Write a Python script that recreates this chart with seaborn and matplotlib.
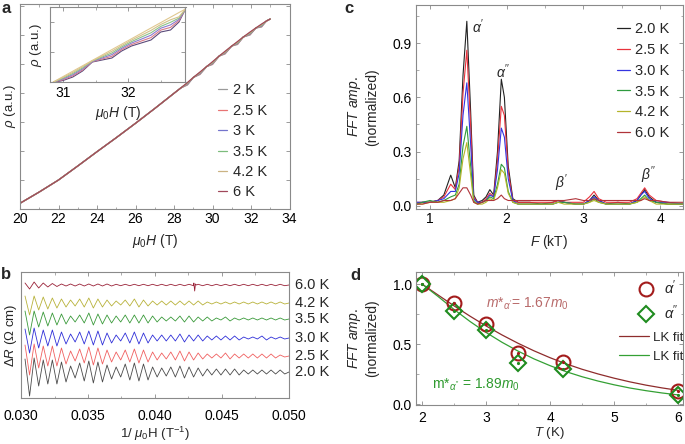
import numpy as np
import pandas as pd
import matplotlib
matplotlib.use("Agg")
import matplotlib.pyplot as plt
import seaborn as sns
from matplotlib.ticker import MultipleLocator, NullFormatter, FormatStrFormatter
from matplotlib.lines import Line2D

# ---------------- data: panel a ----------------
A_LABELS = ["2 K", "2.5 K", "3 K", "3.5 K", "4.2 K", "6 K"]
A_COLORS = ["#9a9a9a", "#e87474", "#7474cc", "#7cbc7c", "#cbb383", "#a0485a"]
A_H = [20, 21, 22, 23, 24, 25, 26, 27, 28, 28.35, 28.7, 29.0, 29.35, 29.7, 30.0,
       30.35, 30.65, 31.0, 31.3, 31.6, 31.95, 32.25, 32.55, 32.8, 33.0]
A_RHO_2 = [5.7, 17, 29, 43, 57.3, 71.3, 85.7, 100.5, 115.7, 121, 124.0, 131.5, 134.5, 142.5, 144.5,
           153, 155.0, 163, 164.5, 172, 174.0, 181, 182.0, 188, 190]
A_RHO_25 = [5.7, 17, 29, 43, 57.3, 71.3, 85.7, 100.5, 115.7, 121, 124.5, 131.5, 135.0, 142.5, 145.0,
            153, 155.5, 163, 165.0, 172, 174.5, 181, 182.5, 188, 190]
A_RHO_3 = [5.7, 17, 29, 43, 57.3, 71.3, 85.7, 100.5, 115.7, 121, 125.0, 131.5, 135.5, 142.5, 145.5,
           153, 156.0, 163, 165.5, 172, 175.0, 181, 183.0, 188, 190]
A_RHO_35 = [5.7, 17, 29, 43, 57.3, 71.3, 85.7, 100.5, 115.7, 121, 125.5, 131.5, 136.0, 142.5, 146.0,
            153, 156.5, 163, 166.0, 172, 175.5, 181, 183.5, 188, 190]
A_RHO_42 = [5.7, 17, 29, 43, 57.3, 71.3, 85.7, 100.5, 115.7, 121, 126.0, 131.5, 136.5, 142.5, 146.6,
            153, 157.0, 163, 166.8, 172, 176.3, 181, 184.3, 188, 190]
A_RHO_6 = [5.7, 17, 29, 43, 57.3, 71.3, 85.7, 100.5, 115.7, 121, 126.5, 131.5, 137.0, 142.5, 147.3,
           153, 157.7, 163, 167.5, 172, 177.0, 181, 185.0, 188, 190]

# inset
I_H = [30.85, 31.0, 31.15, 31.3, 31.45, 31.6, 31.75, 31.9, 32.05, 32.2, 32.35, 32.5, 32.65, 32.78, 32.88]
I_RHO_2 = [-0.5, 1.5, 5.0, 11.0, 20.0, 22.0, 24.0, 31.0, 36.0, 39.0, 42.0, 50.0, 52.0, 60.0, 73.0]
I_RHO_25 = [-0.4, 2.3, 6.2, 12.0, 20.3, 23.0, 25.7, 32.4, 37.4, 40.9, 44.4, 51.9, 54.6, 61.3, 73.0]
I_RHO_3 = [-0.3, 3.1, 7.3, 13.1, 20.6, 24.0, 27.4, 33.7, 38.9, 42.8, 46.8, 53.8, 57.1, 62.6, 73.0]
I_RHO_35 = [-0.2, 3.8, 8.5, 14.1, 21.0, 25.0, 29.0, 35.1, 40.3, 44.8, 49.2, 55.6, 59.7, 63.9, 73.0]
I_RHO_42 = [-0.1, 4.6, 9.6, 15.2, 21.3, 26.0, 30.7, 36.4, 41.8, 46.7, 51.6, 57.5, 62.2, 65.2, 73.0]
I_RHO_6 = [0.0, 5.4, 10.8, 16.2, 21.6, 27.0, 32.4, 37.8, 43.2, 48.6, 54.0, 59.4, 64.8, 69.5, 73.0]

# ---------------- data: panel b ----------------
B_LABELS = ["2.0 K", "2.5 K", "3.0 K", "3.5 K", "4.2 K", "6.0 K"]
B_COLORS = ["#4a4a4a", "#f06060", "#2f2fd8", "#3a9a3a", "#b8b23a", "#9a2238"]
B_BASE = [26, 42, 60, 79, 95, 113]
B_FIRST_DIP = [24, 19, 15, 16, 12, 4]
B_AMP_20 = [13, 14, 12, 12, 10, 6, 9, 11, 10, 7, 5, 8, 9, 8, 5, 4, 5, 6, 5, 4, 3, 3, 3, 3, 2, 2, 2, 2, 2]
B_AMP_25 = [11, 12, 10, 10, 8, 5, 7, 9, 8, 6, 4, 6, 7, 6, 4, 3, 4, 5, 4, 3, 2, 2, 3, 2, 2, 2, 2, 2, 1]
B_AMP_30 = [9, 10, 8, 8, 6, 4, 6, 7, 7, 5, 3, 5, 6, 5, 3, 3, 3, 4, 3, 3, 2, 2, 2, 2, 1, 1, 2, 1, 1]
B_AMP_35 = [8, 8, 7, 6, 5, 3, 4, 6, 5, 4, 3, 4, 4, 4, 3, 2, 2, 3, 3, 2, 2, 1, 2, 1, 1, 1, 1, 1, 1]
B_AMP_42 = [7, 7, 6, 5, 4, 3, 4, 5, 4, 3, 2, 3, 4, 3, 2, 2, 2, 2, 2, 2, 1, 1, 1, 1, 1, 1, 1, 1, 1]
B_AMP_60 = [2, 3, 2, 1.5, 1, 1, 1, 1, 1, 1, 0.7, 0.7, 0.7, 0.7, 0.7, 0.7, 0.7, 0.7, 0.7, 0.7,
            0.7, 0.7, 0.7, 0.7, 0.7, 0.7, 0.7, 0.7, 0.7]
B_X_START = 0.0303
B_PERIOD = 0.00068
B_GLITCH_X = [0.04290, 0.04296, 0.04302, 0.04310]
B_GLITCH_DY = [2, -6, 1, 0]

# ---------------- data: panel c ----------------
C_LABELS = ["2.0 K", "2.5 K", "3.0 K", "3.5 K", "4.2 K", "6.0 K"]
C_COLORS = ["#222222", "#e8323c", "#3434e0", "#2e9a3e", "#b4b42a", "#b0343a"]
C_F = [0.82, 0.9, 1.0, 1.1, 1.18, 1.27, 1.33, 1.38, 1.43, 1.48, 1.53, 1.57, 1.62, 1.68, 1.73,
       1.78, 1.83, 1.88, 1.93, 1.97, 2.02, 2.08, 2.15, 2.3, 2.45, 2.6, 2.67, 2.75, 2.9, 3.0,
       3.08, 3.14, 3.2, 3.3, 3.45, 3.6, 3.7, 3.75, 3.8, 3.86, 3.95, 4.1, 4.3]
C_20 = [0.01, 0.02, 0.02, 0.03, 0.06, 0.17, 0.10, 0.25, 0.72, 1.02, 0.52, 0.06, 0.02, 0.03, 0.05,
        0.09, 0.06, 0.30, 0.70, 0.60, 0.22, 0.04, 0.02, 0.02, 0.01, 0.02, 0.03, 0.02, 0.01, 0.01,
        0.03, 0.06, 0.03, 0.01, 0.02, 0.01, 0.03, 0.06, 0.09, 0.05, 0.02, 0.01, 0.01]
C_25 = [0.02, 0.02, 0.02, 0.03, 0.05, 0.12, 0.09, 0.22, 0.62, 0.86, 0.44, 0.05, 0.02, 0.02, 0.04,
        0.07, 0.05, 0.25, 0.55, 0.50, 0.19, 0.03, 0.02, 0.02, 0.02, 0.02, 0.03, 0.02, 0.02, 0.02,
        0.05, 0.08, 0.04, 0.02, 0.02, 0.02, 0.04, 0.07, 0.10, 0.06, 0.03, 0.02, 0.01]
C_30 = [0.02, 0.02, 0.02, 0.03, 0.04, 0.08, 0.08, 0.18, 0.50, 0.68, 0.34, 0.04, 0.02, 0.02, 0.03,
        0.06, 0.05, 0.20, 0.43, 0.38, 0.15, 0.03, 0.01, 0.01, 0.01, 0.01, 0.02, 0.02, 0.01, 0.01,
        0.03, 0.05, 0.03, 0.01, 0.01, 0.01, 0.03, 0.06, 0.08, 0.04, 0.02, 0.02, 0.01]
C_35 = [0.01, 0.02, 0.03, 0.02, 0.03, 0.05, 0.06, 0.12, 0.33, 0.44, 0.22, 0.03, 0.01, 0.02, 0.03,
        0.05, 0.04, 0.12, 0.23, 0.21, 0.08, 0.02, 0.01, 0.01, 0.01, 0.01, 0.02, 0.02, 0.01, 0.01,
        0.02, 0.04, 0.02, 0.01, 0.01, 0.01, 0.02, 0.04, 0.06, 0.03, 0.02, 0.01, 0.01]
C_42 = [0.01, 0.01, 0.02, 0.02, 0.02, 0.03, 0.04, 0.10, 0.26, 0.35, 0.17, 0.02, 0.01, 0.01, 0.02,
        0.04, 0.03, 0.10, 0.20, 0.18, 0.07, 0.02, 0.01, 0.01, 0.01, 0.01, 0.02, 0.01, 0.01, 0.01,
        0.02, 0.03, 0.02, 0.01, 0.01, 0.01, 0.02, 0.03, 0.05, 0.03, 0.01, 0.01, 0.01]
C_60 = [0.01, 0.01, 0.02, 0.02, 0.03, 0.03, 0.04, 0.07, 0.10, 0.10, 0.06, 0.02, 0.01, 0.02, 0.03,
        0.03, 0.03, 0.04, 0.06, 0.04, 0.03, 0.03, 0.03, 0.03, 0.03, 0.03, 0.03, 0.03, 0.04, 0.03,
        0.03, 0.04, 0.03, 0.03, 0.03, 0.03, 0.03, 0.03, 0.04, 0.03, 0.03, 0.02, 0.02]

# ---------------- data: panel d ----------------
D_T = [2, 2.5, 3, 3.5, 4.2, 6]
D_A1 = [1.0, 0.84, 0.67, 0.43, 0.35, 0.11]
D_A2 = [1.0, 0.78, 0.62, 0.34, 0.29, 0.08]
D_FIT_T = [2, 2.25, 2.5, 2.75, 3, 3.25, 3.5, 3.75, 4, 4.25, 4.5, 4.75, 5, 5.25, 5.5, 5.75, 6]
D_FIT1 = [1.0, 0.909, 0.819, 0.733, 0.652, 0.577, 0.508, 0.445, 0.388, 0.337, 0.292, 0.253,
          0.218, 0.187, 0.160, 0.137, 0.117]
D_FIT2 = [1.0, 0.897, 0.789, 0.689, 0.598, 0.516, 0.443, 0.378, 0.322, 0.272, 0.230, 0.194,
          0.163, 0.136, 0.114, 0.095, 0.079]

# ---------------- style ----------------
sns.set_theme(style="ticks")
plt.rcParams['font.family'] = ['Liberation Sans', 'DejaVu Sans']
plt.rcParams['mathtext.fontset'] = 'custom'
plt.rcParams['mathtext.rm'] = 'Liberation Sans'
plt.rcParams['mathtext.it'] = 'Liberation Sans:italic'
plt.rcParams['mathtext.bf'] = 'Liberation Sans:bold'
plt.rcParams['axes.unicode_minus'] = False

SPINE = "#8a8a8a"
TICK_FS = 10
LEG_FS = 10.5
LAB_FS = 10
W, H = 685, 444
fig = plt.figure(figsize=(6.85, 4.44), dpi=100)


def add_ax(l, t, r, b):
    return fig.add_axes([l / W, 1 - b / H, (r - l) / W, (b - t) / H])


def style(ax, fs=TICK_FS, xpad=3):
    for s in ax.spines.values():
        s.set_color(SPINE)
        s.set_linewidth(0.8)
    ax.tick_params(which='both', direction='in', color=SPINE, top=True, right=True,
                   labelsize=fs, labelcolor='black', pad=3)
    ax.tick_params(axis='x', which='both', pad=xpad)
    ax.tick_params(which='major', length=3, width=0.6)
    ax.tick_params(which='minor', length=1.8, width=0.5)


def line(ax, x, y, color, lw=0.8, **kw):
    sns.lineplot(x=x, y=y, ax=ax, color=color, lw=lw, sort=False, estimator=None,
                 legend=False, **kw)


# ---------------- panel a ----------------
axa = add_ax(20, 4, 289.5, 209)
a_curves = [A_RHO_2, A_RHO_25, A_RHO_3, A_RHO_35, A_RHO_42, A_RHO_6]
for rho, c in zip(a_curves, A_COLORS):
    line(axa, A_H, rho, c, lw=0.9)
axa.set_xlim(20, 34)
axa.set_ylim(0, 205)
style(axa, xpad=2.5)
axa.xaxis.set_major_locator(MultipleLocator(2))
axa.xaxis.set_minor_locator(MultipleLocator(1))
axa.yaxis.set_major_locator(MultipleLocator(29))
axa.yaxis.set_major_formatter(NullFormatter())
axa.set_xlabel(r"$\mu_0H$ (T)", fontsize=LAB_FS, labelpad=4)
axa.set_ylabel(r"$\rho$ (a.u.)", fontsize=9.5)
axa.yaxis.set_label_coords(-0.006, 0.5)
handles = [Line2D([0], [0], color=c, lw=0.9) for c in A_COLORS]
axa.legend(handles, A_LABELS, loc='upper left', bbox_to_anchor=(218 / W, 1 - 83.4 / H),
           bbox_transform=fig.transFigure, frameon=False, fontsize=LEG_FS, handlelength=0.62,
           handletextpad=0.41, labelspacing=0.44, borderpad=0, borderaxespad=0)

# inset
axi = add_ax(50, 7.5, 185.5, 82)
i_curves = [I_RHO_2, I_RHO_25, I_RHO_3, I_RHO_35, I_RHO_42, I_RHO_6]
inset_colors = ["#5a4a7a", "#d87a8a", "#8a7ad0", "#8ac08a", "#d2c088", "#e0c890"]
for rho, c in zip(i_curves, inset_colors):
    line(axi, I_H, rho, c, lw=0.8)
axi.set_xlim(30.8, 32.88)
axi.set_ylim(0, 74.5)
style(axi)
axi.xaxis.set_major_locator(MultipleLocator(1))
axi.xaxis.set_minor_locator(MultipleLocator(0.5))
axi.yaxis.set_major_locator(MultipleLocator(30))
axi.yaxis.set_major_formatter(NullFormatter())
axi.set_xlabel(r"$\mu_0H$ (T)", fontsize=LAB_FS, labelpad=3)
axi.set_ylabel(r"$\rho$ (a.u.)", fontsize=9.5, labelpad=1)

# ---------------- panel b ----------------
axb = add_ax(21, 272, 289, 398)
b_amps = [B_AMP_20, B_AMP_25, B_AMP_30, B_AMP_35, B_AMP_42, B_AMP_60]
for i, (amps, base, dip, c) in enumerate(zip(b_amps, B_BASE, B_FIRST_DIP, B_COLORS)):
    xs, ys = [], []
    for k, a in enumerate(amps):
        xs.append(B_X_START + k * B_PERIOD)
        ys.append(base + a)
        xs.append(B_X_START + (k + 0.5) * B_PERIOD)
        ys.append(base - (dip if k == 0 else a))
    xs.append(0.0500)
    ys.append(base)
    if i == 5:
        xs = xs + B_GLITCH_X
        ys = ys + [base + d for d in B_GLITCH_DY]
        order = np.argsort(xs)
        xs = list(np.array(xs)[order])
        ys = list(np.array(ys)[order])
    line(axb, xs, ys, c, lw=0.6)
    axb.text(1.022, base, B_LABELS[i], transform=axb.get_yaxis_transform(),
             fontsize=LEG_FS, va='center', ha='left')
axb.set_xlim(0.030, 0.050)
axb.set_ylim(0, 126)
style(axb, xpad=8)
axb.tick_params(axis='y', which='both', left=False, right=False, labelleft=False)
axb.xaxis.set_major_locator(MultipleLocator(0.005))
axb.xaxis.set_minor_locator(MultipleLocator(0.0025))
axb.xaxis.set_major_formatter(FormatStrFormatter('%.3f'))
axb.set_xlabel(r"1/ $\mu_0$H (T$^{-1}$)", fontsize=9.5, labelpad=1)
axb.set_ylabel(r"Δ$R$ (Ω cm)", fontsize=9.5)
axb.yaxis.set_label_coords(-0.008, 0.5)

# ---------------- panel c ----------------
axc = add_ax(416, 5, 683, 209)
c_curves = [C_20, C_25, C_30, C_35, C_42, C_60]
for vals, c in zip(c_curves, C_COLORS):
    line(axc, C_F, vals, c, lw=0.8)
axc.set_xlim(0.817, 4.30)
axc.set_ylim(-0.017, 1.11)
style(axc, xpad=2.5)
axc.xaxis.set_major_locator(MultipleLocator(1))
axc.xaxis.set_minor_locator(MultipleLocator(0.5))
axc.yaxis.set_major_locator(MultipleLocator(0.3))
axc.yaxis.set_minor_locator(MultipleLocator(0.15))
axc.yaxis.set_major_formatter(FormatStrFormatter('%.1f'))
axc.set_xlabel(r"$F$ (kT)", fontsize=LAB_FS, labelpad=5)
axc.set_ylabel(r"$FFT\ amp.$" + "\n(normalized)", fontsize=LAB_FS, linespacing=1.15)
axc.yaxis.set_label_coords(-0.139, 0.5)
handles = [Line2D([0], [0], color=c, lw=0.9) for c in C_COLORS]
axc.legend(handles, C_LABELS, loc='upper left', bbox_to_anchor=(617 / W, 1 - 22.4 / H),
           bbox_transform=fig.transFigure, frameon=False, fontsize=LEG_FS, handlelength=0.9,
           handletextpad=0.34, labelspacing=0.46, borderpad=0, borderaxespad=0)
axc.text(1.63, 0.99, r"$\alpha'$", fontsize=10, ha='center', va='center')
axc.text(1.95, 0.74, r"$\alpha''$", fontsize=10, ha='center', va='center')
axc.text(2.72, 0.125, r"$\beta'$", fontsize=10, ha='center', va='center')
axc.text(3.85, 0.17, r"$\beta''$", fontsize=10, ha='center', va='center')

# ---------------- panel d ----------------
axd = add_ax(416, 272, 683, 405)
RED = "#a31c1c"
GREEN = "#1f8c1f"
line(axd, D_FIT_T, D_FIT1, "#8e2c2c", lw=0.9)
line(axd, D_FIT_T, D_FIT2, "#34a034", lw=0.9)
sns.lineplot(x=D_T, y=D_A1, ax=axd, marker='o', linestyle='', markersize=10,
             markerfacecolor='none', markeredgecolor=RED, markeredgewidth=1.5,
             color=RED, estimator=None, sort=False, legend=False)
sns.lineplot(x=D_T, y=D_A2, ax=axd, marker='D', linestyle='', markersize=8.5,
             markerfacecolor='none', markeredgecolor=GREEN, markeredgewidth=1.5,
             color=GREEN, estimator=None, sort=False, legend=False)
sns.lineplot(x=D_T, y=D_A1, ax=axd, marker='o', linestyle='', markersize=1.5,
             markerfacecolor=RED, markeredgecolor=RED, color=RED,
             estimator=None, sort=False, legend=False)
sns.lineplot(x=D_T, y=D_A2, ax=axd, marker='o', linestyle='', markersize=1.5,
             markerfacecolor=GREEN, markeredgecolor=GREEN, color=GREEN,
             estimator=None, sort=False, legend=False)
axd.set_xlim(1.906, 6.078)
axd.set_ylim(-0.005, 1.1)
style(axd, xpad=4)
axd.xaxis.set_major_locator(MultipleLocator(1))
axd.xaxis.set_minor_locator(MultipleLocator(0.5))
axd.yaxis.set_major_locator(MultipleLocator(0.5))
axd.yaxis.set_minor_locator(MultipleLocator(0.25))
axd.yaxis.set_major_formatter(FormatStrFormatter('%.1f'))
axd.set_xlabel(r"$T$ (K)", fontsize=9.5, labelpad=0.5)
axd.set_ylabel(r"$FFT\ amp.$" + "\n(normalized)", fontsize=LAB_FS, linespacing=1.15)
axd.yaxis.set_label_coords(-0.139, 0.5)
axd.text(3.0, 0.835, r"$m$*$_{\alpha'}$= 1.67$m_0$", color="#b86a6a", fontsize=10,
         ha='left', va='center')
axd.text(2.16, 0.165, r"m*$_{\alpha''}$ = 1.89$m_0$", color="#2f9a2f", fontsize=10,
         ha='left', va='center')
mh = [Line2D([0], [0], marker='o', ls='', ms=10, mfc='none', mec=RED, mew=1.5),
      Line2D([0], [0], marker='D', ls='', ms=8.5, mfc='none', mec=GREEN, mew=1.5)]
leg1 = axd.legend(mh, [r"$\alpha'$", r"$\alpha''$"], loc='upper left',
                  bbox_to_anchor=(640 / W, 1 - 278.4 / H), bbox_transform=fig.transFigure,
                  frameon=False, fontsize=LEG_FS, handlelength=0.8, handletextpad=0.84,
                  labelspacing=0.46, borderpad=0, borderaxespad=0)
axd.add_artist(leg1)
lh = [Line2D([0], [0], color="#8e2c2c", lw=0.9), Line2D([0], [0], color="#34a034", lw=0.9)]
axd.legend(lh, ["LK fit", "LK fit"], loc='upper left',
           bbox_to_anchor=(619 / W, 1 - 331.8 / H), bbox_transform=fig.transFigure,
           frameon=False, fontsize=9.5, handlelength=2.3, handletextpad=0.3,
           labelspacing=0.5, borderpad=0, borderaxespad=0)

# panel letters
for lab, x, y in [("a", 1, 1), ("b", 1, 267), ("c", 344, 1), ("d", 350, 268)]:
    fig.text(x / W, 1 - y / H, lab, fontsize=12, fontweight='bold', ha='left', va='top')

fig.savefig("out.png", dpi=100)
